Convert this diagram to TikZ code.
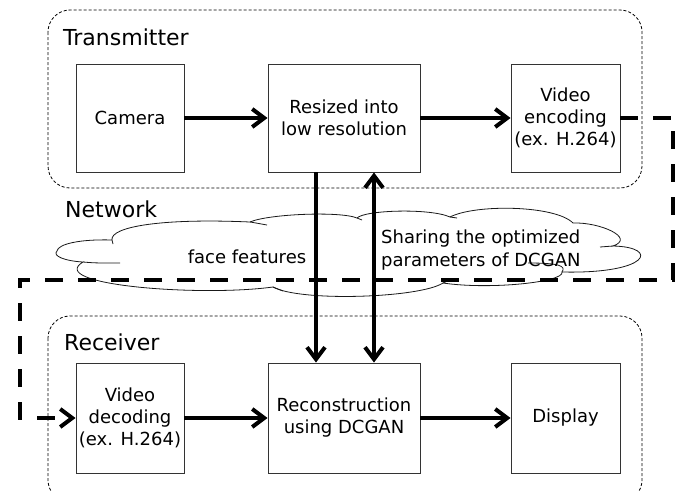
\documentclass[tikz,border=0pt]{standalone}
\usepackage{fontspec}
\setmainfont{DejaVu Sans}
\usetikzlibrary{arrows.meta}
\tikzset{
  grp/.style={draw=black, line width=0.8pt, dash pattern=on 3pt off 2pt, rounded corners=22pt},
  blk/.style={draw=black!80, line width=0.9pt, fill=white, inner sep=1pt, align=center,
              font=\fontsize{18}{22}\selectfont},
  hdr/.style={anchor=base west, inner sep=0pt, font=\fontsize{22}{26}\selectfont},
  lbl/.style={inner sep=0pt, font=\fontsize{18}{23}\selectfont},
  flow/.style={line width=4pt, -{Straight Barb[length=12pt,width=18pt]}},
  bothflow/.style={line width=4pt, {Straight Barb[length=12pt,width=18pt]}-{Straight Barb[length=12pt,width=18pt]}},
  netflow/.style={line width=4pt, dash pattern=on 18pt off 15pt, -{Straight Barb[length=12pt,width=18pt]}},
  cloudline/.style={draw=black!90, line width=0.8pt},
}
\begin{document}
\begin{tikzpicture}[x=1pt,y=-1pt]
\useasboundingbox (0,0) rectangle (688,491);
\clip (0,0) rectangle (688,491);

% group frames
\draw[grp] (48,10) rectangle (642,188);
\draw[grp] (48,316) rectangle (642,502);
\node[hdr] (ttx) at (63,45) {Transmitter};
\node[hdr] (tnet) at (65,217) {Network};
\node[hdr] (trx) at (64,350) {Receiver};

% cloud
\draw[cloudline, fill=white]
  (57,251) .. controls (58,244) and (80,239) .. (112,240)
  .. controls (110,227) and (160,218) .. (250,222)
  .. controls (268,214) and (340,211) .. (357,218)
  .. controls (365,210) and (430,208) .. (450,217)
  .. controls (475,204) and (555,205) .. (573,223)
  .. controls (600,222) and (636,238) .. (613,246)
  .. controls (660,247) and (650,274) .. (562,272)
  .. controls (565,282) and (490,290) .. (443,283)
  .. controls (420,298) and (300,302) .. (273,287)
  .. controls (200,297) and (45,285) .. (83,262)
  .. controls (65,261) and (52,256) .. (57,251) -- cycle;
\draw[cloudline] (83,262) .. controls (95,263) .. (120,263);
\draw[cloudline] (250,222) .. controls (256,223) .. (267,225);
\draw[cloudline] (357,218) -- (362,220);
\draw[cloudline] (450,217) -- (457,218);
\draw[cloudline] (613,246) .. controls (606,247) .. (600,247);
\draw[cloudline] (562,272) .. controls (566,266) and (560,263) .. (528,263);
\draw[cloudline] (443,283) -- (450,280);
\draw[cloudline] (273,287) -- (283,291);
\draw[cloudline] (112,240) -- (113,244);

\node[lbl] (lff) at (247,257) {face features};
\node[lbl, anchor=west, align=left] (lsh) at (381,250) {Sharing the optimized\\parameters of DCGAN};

% blocks
\node[blk, minimum width=108pt, minimum height=108pt] (cam) at (130,118) {Camera};
\node[blk, minimum width=152pt, minimum height=108pt] (res) at (344,118) {Resized into\\low resolution};
\node[blk, minimum width=109pt, minimum height=108pt] (enc) at (565.5,118) {Video\\encoding\\(ex. H.264)};
\node[blk, minimum width=108pt, minimum height=110pt] (dec) at (130,418) {Video\\decoding\\(ex. H.264)};
\node[blk, minimum width=152pt, minimum height=110pt] (rec) at (344,418) {Reconstruction\\using DCGAN};
\node[blk, minimum width=109pt, minimum height=110pt] (dis) at (565.5,418) {Display};

\coordinate (cR) at (673,280);
\coordinate (cL) at (20,280);

% connectors
\draw[flow] (cam) -- (res);
\draw[flow] (res) -- (enc);
\draw[flow] (dec) -- (rec);
\draw[flow] (rec) -- (dis);
\draw[flow] ([xshift=-28pt]res.south) -- ([xshift=-28pt]rec.north);
\draw[bothflow] ([xshift=30pt]rec.north) -- ([xshift=30pt]res.south);
\draw[netflow] (enc.east) -| (cR) -- (cL) |- (dec.west);
\end{tikzpicture}
\end{document}
